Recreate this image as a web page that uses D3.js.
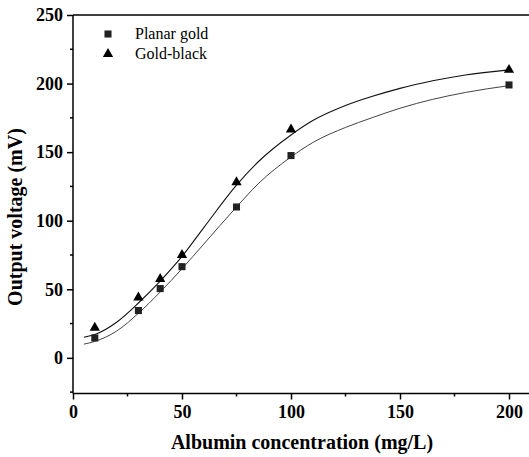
<!DOCTYPE html>
<html>
<head>
<meta charset="utf-8">
<script src="https://cdn.jsdelivr.net/npm/d3@7"></script>
<style>
  body { margin: 0; background: #fff; }
  svg { display: block; }
  .axis path, .axis line { stroke: #000; stroke-width: 1.5px; }
</style>
</head>
<body>
<div id="plot"></div>
<script>
const width = 529;
const height = 457;
const margin = {top: 15, left: 73, bottom: 64, right: -2};
const serif = "Liberation Serif, Times New Roman, serif";

// ----- DATA ------------------------//
const concentration = [10, 30, 40, 50, 75, 100, 200];
const planarGold = [14.5, 34.5, 50.5, 66.5, 110, 147.5, 199];
const goldBlack = [22, 44, 57.5, 75, 128, 166.5, 210];

// fitted curves
const fitX = [5, 10, 20, 30, 40, 50, 60, 75, 85, 100, 110, 125, 137, 150, 165, 180, 200];
const fitPlanar = [10, 12, 19.5, 32.5, 48, 65, 83, 110, 127, 146.5, 157, 168, 175, 182, 188.5, 193.5, 198.5];
const fitGoldBlack = [15, 17, 26, 40, 56, 74, 95, 126, 143, 162.5, 173, 184, 190.5, 196.5, 202, 206.3, 210];

const xTicks = [0, 50, 100, 150, 200];
const yTicks = [0, 50, 100, 150, 200, 250];
const seriesNames = ["Planar gold", "Gold-black"];

var svg = d3.select("#plot").append("svg")
    .attr("width", width)
    .attr("height", height);

const xScl = d3.scaleLinear().domain([0, 210]).range([margin.left, margin.left + 2.18 * 210]);
const yScl = d3.scaleLinear().domain([-26, 250]).range([height - margin.bottom + 0.5, margin.top]);

// axes
const xAxis = d3.axisBottom(xScl).tickValues(xTicks).tickSize(6).tickPadding(6).tickFormat(d3.format("d"));
const yAxis = d3.axisLeft(yScl).tickValues(yTicks).tickSize(6).tickPadding(4).tickFormat(d3.format("d"));

svg.append("g")
    .attr("class", "axis")
    .attr("transform", "translate(0," + yScl(-26) + ")")
    .call(xAxis)
    .call(g => g.select(".domain").attr("d", "M" + xScl(0) + ",0H" + width));

svg.append("g")
    .attr("class", "axis")
    .attr("transform", "translate(" + xScl(0) + ",0)")
    .call(yAxis)
    .call(g => g.select(".domain").attr("d", "M0," + yScl(-26) + "V" + yScl(250)));

svg.selectAll(".axis")
    .attr("font-family", serif)
    .attr("font-weight", "bold")
    .attr("font-size", 18);

// minor ticks
svg.append("g").selectAll("line")
    .data([25, 75, 125, 175])
    .enter().append("line")
    .attr("x1", d => xScl(d)).attr("x2", d => xScl(d))
    .attr("y1", yScl(-26)).attr("y2", yScl(-26) + 3)
    .attr("stroke", "#000").attr("stroke-width", 1.5);

svg.append("g").selectAll("line")
    .data([-25, 25, 75, 125, 175, 225])
    .enter().append("line")
    .attr("x1", xScl(0) - 3).attr("x2", xScl(0))
    .attr("y1", d => yScl(d)).attr("y2", d => yScl(d))
    .attr("stroke", "#000").attr("stroke-width", 1.5);

// top frame line
svg.append("line")
    .attr("x1", xScl(0)).attr("x2", width)
    .attr("y1", yScl(250)).attr("y2", yScl(250))
    .attr("stroke", "#000").attr("stroke-width", 1.5);

// fitted lines
const line = d3.line()
    .curve(d3.curveMonotoneX)
    .x(d => xScl(d[0]))
    .y(d => yScl(d[1]));

svg.append("path")
    .datum(d3.zip(fitX, fitPlanar))
    .attr("fill", "none").attr("stroke", "#444").attr("stroke-width", 1)
    .attr("d", line);

svg.append("path")
    .datum(d3.zip(fitX, fitGoldBlack))
    .attr("fill", "none").attr("stroke", "#111").attr("stroke-width", 1.1)
    .attr("d", line);

// markers
const square = d3.symbol().type(d3.symbolSquare).size(50);
const triangle = d3.symbol().type(d3.symbolTriangle).size(46);

svg.append("g").selectAll("path")
    .data(d3.zip(concentration, planarGold))
    .enter().append("path")
    .attr("d", square)
    .attr("fill", "#222")
    .attr("transform", d => "translate(" + xScl(d[0]) + "," + yScl(d[1]) + ")");

svg.append("g").selectAll("path")
    .data(d3.zip(concentration, goldBlack))
    .enter().append("path")
    .attr("d", triangle)
    .attr("fill", "#000")
    .attr("transform", d => "translate(" + xScl(d[0]) + "," + yScl(d[1]) + ")");

// legend
const legend = svg.append("g").attr("transform", "translate(108,34)");
legend.append("path").attr("d", square).attr("fill", "#222");
legend.append("path").attr("d", triangle).attr("fill", "#000").attr("transform", "translate(0,20)");
legend.selectAll("text")
    .data(seriesNames)
    .enter().append("text")
    .attr("x", 27)
    .attr("y", (d, i) => i * 20 + 5)
    .attr("font-family", serif)
    .attr("font-size", 16)
    .text(d => d);

// axis titles
svg.append("text")
    .attr("x", 302).attr("y", 449)
    .attr("text-anchor", "middle")
    .attr("font-family", serif)
    .attr("font-weight", "bold")
    .attr("font-size", 20)
    .text("Albumin concentration (mg/L)");

svg.append("text")
    .attr("transform", "translate(22,217) rotate(-90)")
    .attr("text-anchor", "middle")
    .attr("font-family", serif)
    .attr("font-weight", "bold")
    .attr("font-size", 20)
    .text("Output voltage (mV)");
</script>
</body>
</html>
